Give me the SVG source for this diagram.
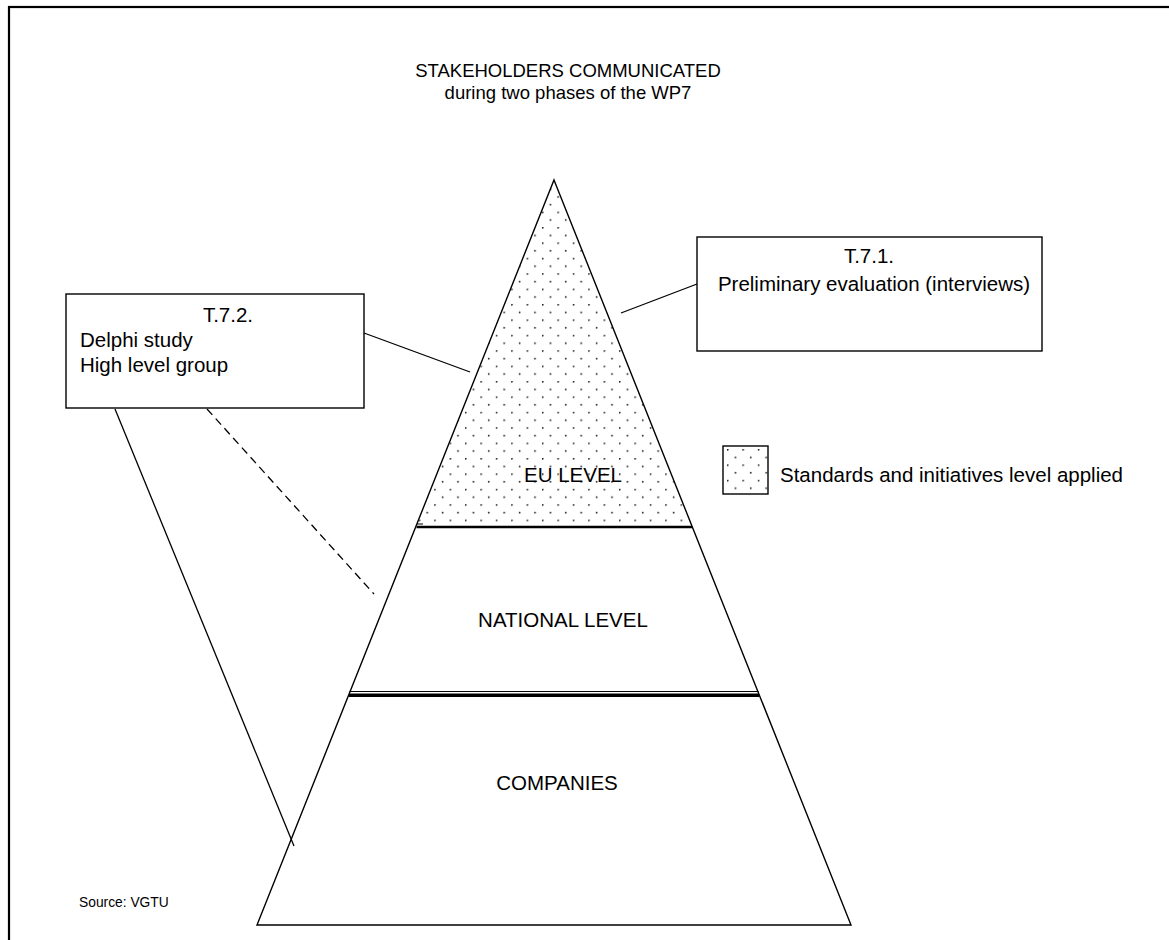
<svg xmlns="http://www.w3.org/2000/svg" width="1169" height="940" viewBox="0 0 1169 940">
  <defs>
    <!-- stippled fill used for the EU level and its legend key -->
    <pattern id="dots" patternUnits="userSpaceOnUse" x="465" y="442.6" width="15.4" height="15.4">
      <circle cx="0.7" cy="0.7" r="0.9" fill="#222"/>
      <circle cx="8.4" cy="8.4" r="0.9" fill="#222"/>
    </pattern>
    <pattern id="dotsKey" patternUnits="userSpaceOnUse" x="727" y="449" width="15.4" height="15.4">
      <circle cx="0.7" cy="0.7" r="0.9" fill="#222"/>
      <circle cx="8.4" cy="8.4" r="0.9" fill="#222"/>
    </pattern>
  </defs>
  <style>
    text { font-family: "Liberation Sans", Arial, sans-serif; fill: #000; }
    .lbl { font-size: 20.5px; }
    .title { font-size: 18.5px; text-anchor: middle; }
    .mid { text-anchor: middle; }
    .box { fill: #fff; stroke: #000; stroke-width: 1.4; }
    .edge { fill: none; stroke: #000; stroke-width: 1.4; }
    .conn { fill: none; stroke: #000; stroke-width: 1.3; }
  </style>

  <rect x="0" y="0" width="1169" height="940" fill="#fff"/>
  <!-- page frame -->
  <rect x="9" y="7" width="1200" height="1000" fill="none" stroke="#000" stroke-width="2.2"/>

  <g id="title">
    <text class="title" x="568" y="77">STAKEHOLDERS COMMUNICATED</text>
    <text class="title" x="568" y="99">during two phases of the WP7</text>
  </g>

  <g id="pyramid">
    <polygon points="554,180 416.5,527 691.5,527" fill="url(#dots)"/>
    <polygon class="edge" points="554,180 851,925 257,925"/>
    <line x1="416.5" y1="527" x2="692" y2="527" stroke="#000" stroke-width="2.6"/>
    <line x1="417" y1="524" x2="423" y2="524" stroke="#000" stroke-width="1"/>
    <line x1="349.5" y1="691.5" x2="758.5" y2="691.5" stroke="#000" stroke-width="1"/>
    <line x1="349" y1="695.3" x2="759" y2="695.3" stroke="#000" stroke-width="3.4"/>
  </g>

  <g id="eu-level">
    <text class="lbl mid" x="573" y="482">EU LEVEL</text>
  </g>
  <g id="national-level">
    <text class="lbl mid" x="563" y="627">NATIONAL LEVEL</text>
  </g>
  <g id="companies">
    <text class="lbl mid" x="557" y="790">COMPANIES</text>
  </g>

  <g id="connectors">
    <line class="conn" x1="697" y1="284" x2="621" y2="313"/>
    <line class="conn" x1="364" y1="333" x2="470" y2="372"/>
    <line class="conn" x1="115" y1="409" x2="294" y2="846"/>
    <line class="conn" x1="207" y1="409" x2="374" y2="594" stroke-dasharray="8,5"/>
  </g>

  <g id="t71">
    <rect class="box" x="697" y="237" width="345" height="114"/>
    <text class="lbl mid" x="869" y="263">T.7.1.</text>
    <text class="lbl mid" x="874" y="291">Preliminary evaluation (interviews)</text>
  </g>

  <g id="t72">
    <rect class="box" x="66" y="294" width="298" height="114"/>
    <text class="lbl mid" x="228" y="322">T.7.2.</text>
    <text class="lbl" x="80" y="347">Delphi study</text>
    <text class="lbl" x="80" y="372">High level group</text>
  </g>

  <g id="legend">
    <rect x="723" y="446" width="45" height="48" fill="url(#dotsKey)" stroke="#000" stroke-width="1.4"/>
    <text class="lbl" x="780" y="482" font-size="20.8">Standards and initiatives level applied</text>
  </g>

  <g id="source">
    <text x="79" y="907" font-size="13.8">Source: VGTU</text>
  </g>
</svg>
